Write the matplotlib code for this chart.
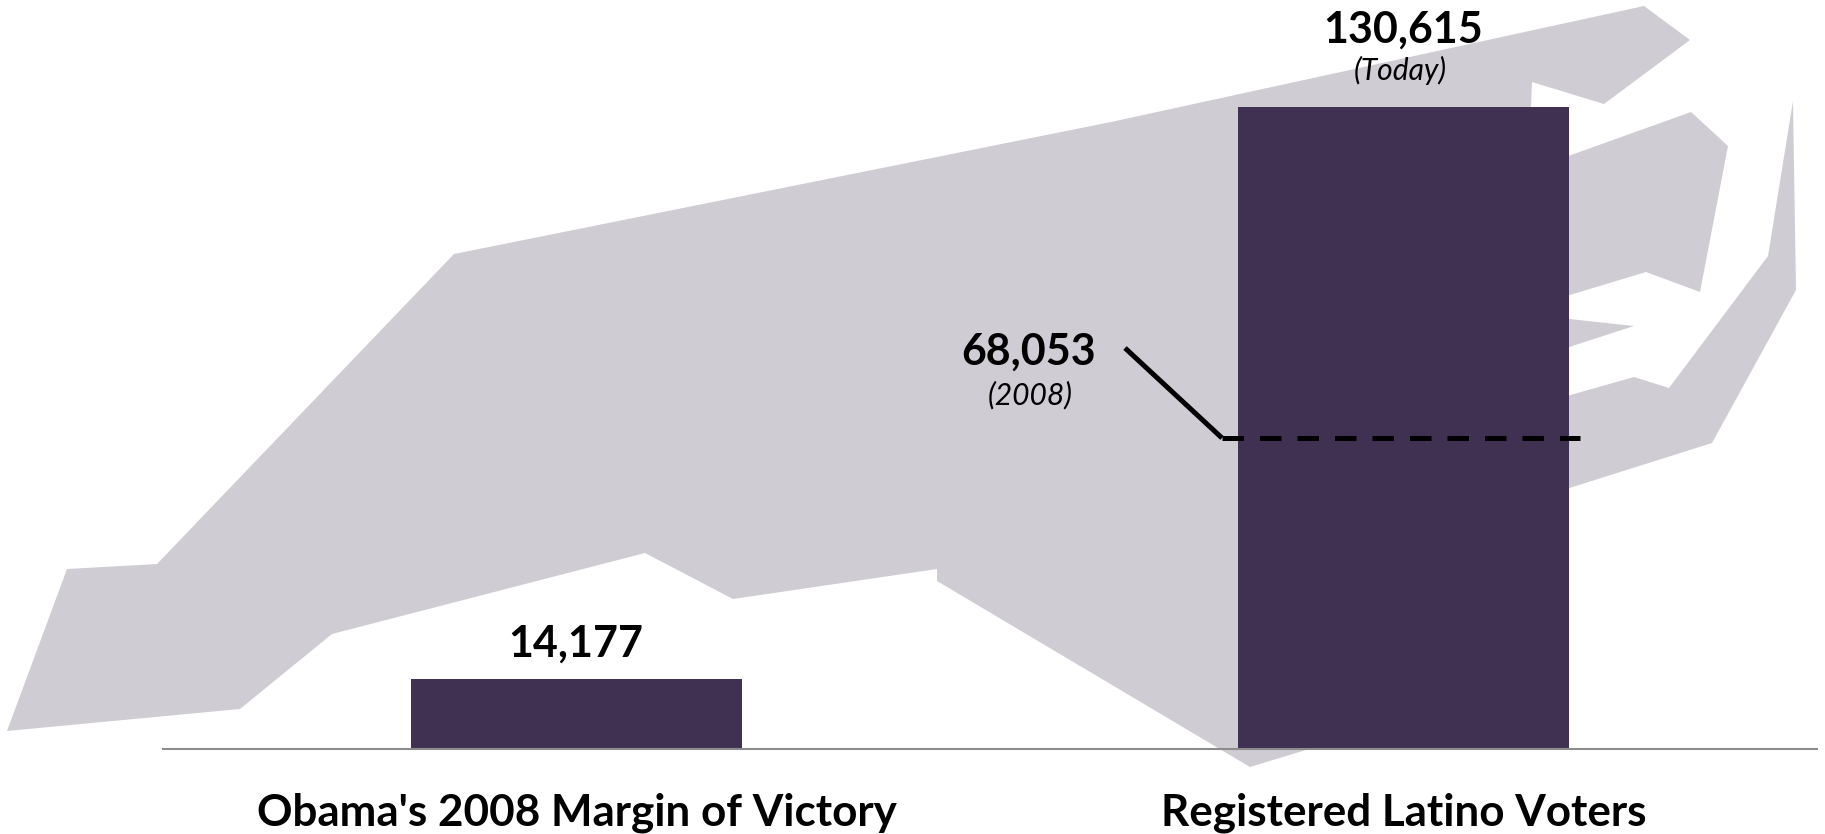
"""Obama's 2008 margin vs registered Latino voters, over a North Carolina outline."""

import matplotlib

matplotlib.use("Agg")
import matplotlib.pyplot as plt
from matplotlib.patches import Polygon
from matplotlib.transforms import blended_transform_factory

categories = ["Obama's 2008 Margin of Victory", "Registered Latino Voters"]
values = [14177, 130615]
value_labels = ["14,177", "130,615"]
level_2008 = 63300  # where the dashed marker sits in the picture
level_label = "68,053"
level_note = "(2008)"
today_note = "(Today)"

# state outline, in figure pixels from the top left corner
# the inlets end a little inside the tall bar so no gap shows at its edge
state_x = [7, 67, 157, 454, 1111, 1644, 1690, 1604, 1532, 1531, 1560, 1691, 1728, 1700, 1646, 1560,
           1560, 1634, 1560, 1560, 1634, 1669, 1768, 1793, 1796, 1712, 1560, 1306, 1250, 937, 937,
           733, 645, 332, 240]
state_y = [731, 569, 564, 254, 122, 6, 40, 104, 82, 107, 159, 112, 146, 292, 272, 298,
           318, 326, 350, 398, 377, 388, 256, 101, 290, 443, 491, 750, 767, 581, 569,
           599, 553, 634, 709]
leader_x = [1125, 1222]
leader_y = [348, 438]
dash_x = [1222, 1580]

BAR_COLOR = "#403052"
STATE_COLOR = "#CFCCD4"
AXIS_COLOR = "#8C8C8C"
WIDTH, HEIGHT = 1825, 834
BASE_Y = 749
TOP_Y = 107

plt.rcParams["font.family"] = ["Lato", "DejaVu Sans"]

fig = plt.figure(figsize=(WIDTH / 100, HEIGHT / 100), dpi=100, facecolor="white")

px = fig.add_axes([0, 0, 1, 1])
px.set_xlim(0, WIDTH)
px.set_ylim(HEIGHT, 0)
px.axis("off")
px.add_patch(Polygon(list(zip(state_x, state_y)), closed=True, facecolor=STATE_COLOR, edgecolor="none"))

ax = fig.add_axes([163 / WIDTH, (HEIGHT - BASE_Y) / HEIGHT, 1654 / WIDTH, BASE_Y / HEIGHT])
ax.patch.set_alpha(0)
ax.set_xlim(-0.5, 1.5)
ax.set_ylim(0, values[1] * BASE_Y / (BASE_Y - TOP_Y))
ax.bar([0, 1], values, width=0.4, color=BAR_COLOR)

for side in ["top", "left", "right"]:
    ax.spines[side].set_visible(False)
ax.spines["bottom"].set_color(AXIS_COLOR)
ax.spines["bottom"].set_linewidth(1.5)
ax.set_yticks([])
ax.set_xticks([0, 1])
ax.set_xticklabels(categories, fontsize=31.7, fontweight="bold", color="black")
ax.tick_params(axis="x", length=0, pad=31.5)

# value labels
ax.annotate(value_labels[0], (0, values[0]), xytext=(-1, 36), textcoords="offset pixels",
            ha="center", va="center", fontsize=31, fontweight="bold")
ax.annotate(value_labels[1], (1, values[1]), xytext=(0, 77), textcoords="offset pixels",
            ha="center", va="center", fontsize=31, fontweight="bold")
ax.annotate(today_note, (1, values[1]), xytext=(-3, 37), textcoords="offset pixels",
            ha="center", va="center", fontsize=21.6, fontstyle="italic")

ax.text(1029, 352, level_label, transform=px.transData, ha="center", va="center", fontsize=31, fontweight="bold")
ax.text(1030, 395, level_note, transform=px.transData, ha="center", va="center", fontsize=21.6, fontstyle="italic")

# 2008 marker
ax.plot(leader_x, leader_y, transform=px.transData, color="black", lw=3.6, solid_capstyle="butt")
blend = blended_transform_factory(px.transData, ax.transData)
ax.plot(dash_x, [level_2008, level_2008], transform=blend, color="black", lw=3.6,
        dashes=(4.3, 3.2), dash_capstyle="butt")

fig.savefig("out.png", dpi=100, facecolor="white")
